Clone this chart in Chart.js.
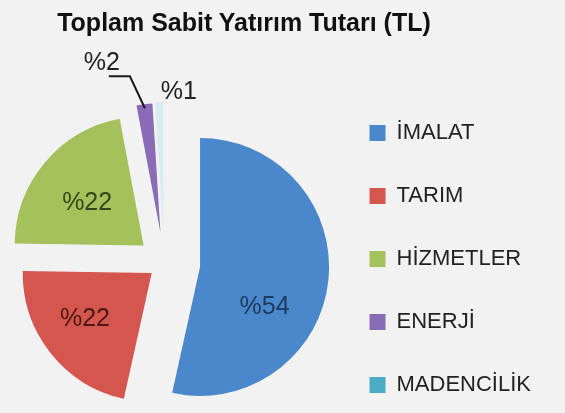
<!DOCTYPE html>
<html>
<head>
<meta charset="utf-8">
<script src="https://cdn.jsdelivr.net/npm/chart.js@4"></script>
<style>
html,body{margin:0;padding:0;background:#f2f2f2;overflow:hidden;}
#wrap{position:relative;width:565px;height:413px;overflow:hidden;}
#c{position:absolute;left:0;top:0;display:block;}
#title{position:absolute;left:0;top:8px;width:488px;height:30px;line-height:30px;text-align:center;
  font:bold 25px "Liberation Sans", Arial, Helvetica, sans-serif;color:#111;white-space:nowrap;}
</style>
</head>
<body>
<div id="wrap">
<canvas id="c" width="565" height="445"></canvas>
<div id="title"></div>
</div>
<script>
// ---- data ----
const categories = ['İMALAT', 'TARIM', 'HİZMETLER', 'ENERJİ', 'MADENCİLİK'];
const shares = [54, 22, 22, 2, 1];
const chartTitle = 'Toplam Sabit Yatırım Tutarı (TL)';
const labelPrefix = '%';

// ---- styles ----
const FONT = '"Liberation Sans", Arial, Helvetica, sans-serif';
const sliceColors = ['#4a88cb', '#d5564f', '#a4c15b', '#8a6bb6', '#d6ecf2'];
const legendColors = ['#4a88cb', '#d5564f', '#a4c15b', '#8a6bb6', '#4aabc6'];
const explodeDist = [36, 16, 27, 31, 32];   // radial explosion of each slice, px
const PIE_R = 129;
const labelStyle = [
  {inside: true, frac: 0.634, rad: 0.59, color: '#1d3a5c'},
  {inside: true, frac: 0.55, rad: 0.627, color: '#4a1815'},
  {inside: true, frac: 0.464, rad: 0.55, color: '#34461a'},
  {inside: false, inset: 4, dx: -43, dy: -45, leader: [[-15, -32], [-36, -32]], color: '#222'},
  {inside: false, inset: 0, dx: 19.5, dy: -10, color: '#222'}
];

document.getElementById('title').textContent = chartTitle;

// explode slices radially (along each slice's mid angle)
const explode = {
  id: 'explode',
  afterDatasetUpdate(chart, args) {
    args.meta.data.forEach((el, i) => {
      const mid = (el.startAngle + el.endAngle) / 2;
      el.x += Math.cos(mid) * explodeDist[i];
      el.y += Math.sin(mid) * explodeDist[i];
    });
  }
};

const sliceLabels = {
  id: 'sliceLabels',
  afterDatasetsDraw(chart) {
    const meta = chart.getDatasetMeta(0);
    const ctx = chart.ctx;
    ctx.save();
    ctx.font = '25px ' + FONT;
    ctx.textAlign = 'center';
    ctx.textBaseline = 'middle';
    meta.data.forEach((el, i) => {
      const st = labelStyle[i];
      const R = el.outerRadius;
      const mid = (el.startAngle + el.endAngle) / 2;
      const text = labelPrefix + shares[i];
      ctx.fillStyle = st.color;
      if (st.inside) {
        const a = el.startAngle + st.frac * (el.endAngle - el.startAngle);
        ctx.fillText(text, el.x + Math.cos(a) * st.rad * R, el.y + Math.sin(a) * st.rad * R);
      } else {
        const ox = el.x + Math.cos(mid) * (R - st.inset);
        const oy = el.y + Math.sin(mid) * (R - st.inset);
        if (st.leader) {
          ctx.beginPath();
          ctx.moveTo(ox, oy);
          st.leader.forEach(p => ctx.lineTo(ox + p[0], oy + p[1]));
          ctx.strokeStyle = '#1a1a1a';
          ctx.lineWidth = 2;
          ctx.stroke();
        }
        ctx.fillText(text, ox + st.dx, oy + st.dy);
      }
    });
    ctx.restore();
  }
};

new Chart(document.getElementById('c'), {
  type: 'pie',
  data: {
    labels: categories,
    datasets: [{
      data: shares,
      backgroundColor: sliceColors,
      borderWidth: 0,
      clip: false
    }]
  },
  options: {
    responsive: false,
    animation: false,
    events: [],
    radius: PIE_R,
    layout: {padding: {left: 0, right: 24, top: 81, bottom: 0}},
    plugins: {
      tooltip: {enabled: false},
      title: {display: false},
      legend: {
        position: 'right',
        align: 'start',
        labels: {
          boxWidth: 16,
          boxHeight: 16,
          padding: 41,
          color: '#222',
          font: {size: 22, family: FONT},
          generateLabels(chart) {
            const items = Chart.overrides.doughnut.plugins.legend.labels.generateLabels(chart);
            items.forEach((it, i) => {
              it.fillStyle = legendColors[i];
              it.strokeStyle = legendColors[i];
              it.lineWidth = 0;
            });
            return items;
          }
        }
      }
    }
  },
  plugins: [explode, sliceLabels]
});
</script>
</body>
</html>
